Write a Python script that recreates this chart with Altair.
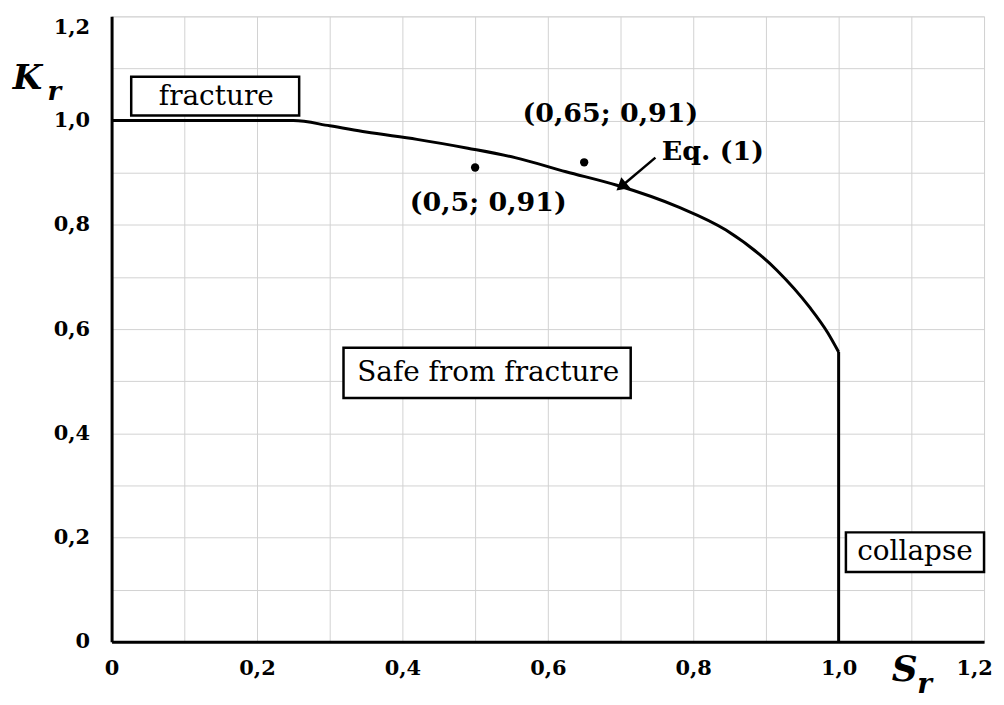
import altair as alt
import pandas as pd

# Failure assessment curve
sr_curve = [0.0, 0.25, 0.30, 0.35, 0.42, 0.49, 0.555, 0.625, 0.695, 0.78, 0.845, 0.915, 0.96, 0.985, 1.0, 1.0]
kr_curve = [1.0, 1.0, 0.99, 0.978, 0.964, 0.947, 0.929, 0.902, 0.876, 0.834, 0.79, 0.713, 0.642, 0.593, 0.556, 0.0]

# Assessment points
point_sr = [0.5, 0.65]
point_kr = [0.91, 0.92]

# Axis ticks / grid
tick_values = [0.0, 0.1, 0.2, 0.3, 0.4, 0.5, 0.6, 0.7, 0.8, 0.9, 1.0, 1.1, 1.2]

# Boxed region labels
box_names = ["fracture", "Safe from fracture", "collapse"]
box_x1 = [0.027, 0.319, 1.01]
box_x2 = [0.258, 0.714, 1.2]
box_y1 = [1.010, 0.468, 0.134]
box_y2 = [1.084, 0.564, 0.210]
box_tx = [0.144, 0.518, 1.105]
box_ty = [1.046, 0.516, 0.172]

# Point / equation annotations
note_texts = ["(0,65; 0,91)", "(0,5; 0,91)", "Eq. (1)"]
note_x = [0.686, 0.518, 0.827]
note_y = [1.013, 0.841, 0.939]

# Arrow to the curve
arrow_x = [0.748]
arrow_y = [0.929]
arrow_x2 = [0.703]
arrow_y2 = [0.876]

# Axis symbols (main letter + subscript)
sym_text = ["K", "r", "S", "r"]
sym_x = [-0.136, -0.088, 1.073, 1.108]
sym_y = [1.061, 1.040, -0.076, -0.098]
sym_size = [34, 26, 36, 28]

FONT = "DejaVu Serif"
xs = alt.Scale(domain=[0, 1.2], nice=False, zero=False)
ys = alt.Scale(domain=[0, 1.2], nice=False, zero=False)

label_expr = ("round(datum.value*10) % 2 == 1 ? '' : "
              "(datum.value == 0 ? '0' : replace(format(datum.value, '.1f'), '.', ','))")

n = len(sr_curve)
curve_df = pd.DataFrame({"Sr": sr_curve, "Kr": kr_curve, "i": list(range(n))})
pts_df = pd.DataFrame({"Sr": point_sr, "Kr": point_kr})
box_df = pd.DataFrame({"name": box_names, "x1": box_x1, "x2": box_x2, "y1": box_y1,
                       "y2": box_y2, "tx": box_tx, "ty": box_ty})
note_df = pd.DataFrame({"t": note_texts, "x": note_x, "y": note_y})
arrow_df = pd.DataFrame({"x": arrow_x, "y": arrow_y, "x2": arrow_x2, "y2": arrow_y2})
sym_df = pd.DataFrame({"t": sym_text, "x": sym_x, "y": sym_y, "s": sym_size})

x_axis = alt.Axis(values=tick_values, labelExpr=label_expr, title=None, ticks=False,
                  grid=True, gridColor="#d2d2d2", gridWidth=1, domainColor="black",
                  domainWidth=3, labelFont=FONT, labelFontWeight="bold", labelFontSize=21,
                  labelColor="black", labelPadding=16, labelFlush=False,
                  labelOffset={"condition": {"test": "datum.value > 1.15", "value": -10},
                               "value": 0})
y_axis = alt.Axis(values=tick_values, labelExpr=label_expr, title=None, ticks=False,
                  grid=True, gridColor="#d2d2d2", gridWidth=1, domainColor="black",
                  domainWidth=3, labelFont=FONT, labelFontWeight="bold", labelFontSize=21,
                  labelColor="black", labelPadding=22, labelFlush=False,
                  labelBaseline={"condition": {"test": "datum.value > 1.15", "value": "top"},
                                 "value": "middle"})

base = alt.Chart(curve_df)
curve = base.transform_filter(f"datum.i <= {n - 2}").mark_line(
    color="black", strokeWidth=3, interpolate="monotone", clip=False).encode(
    x=alt.X("Sr:Q", scale=xs, axis=x_axis),
    y=alt.Y("Kr:Q", scale=ys, axis=y_axis),
    order="i:Q",
)
vertical = base.transform_filter(f"datum.i >= {n - 2}").mark_line(
    color="black", strokeWidth=3).encode(
    x=alt.X("Sr:Q", scale=xs), y=alt.Y("Kr:Q", scale=ys), order="i:Q"
)

points = alt.Chart(pts_df).mark_circle(color="black", size=70, opacity=1).encode(
    x=alt.X("Sr:Q", scale=xs), y=alt.Y("Kr:Q", scale=ys)
)

boxes = alt.Chart(box_df).mark_rect(fill="white", stroke="black", strokeWidth=2.5, clip=False).encode(
    x=alt.X("x1:Q", scale=xs), x2="x2:Q", y=alt.Y("y1:Q", scale=ys), y2="y2:Q"
)
box_text = alt.Chart(box_df).mark_text(font=FONT, fontSize=28, color="black").encode(
    x=alt.X("tx:Q", scale=xs), y=alt.Y("ty:Q", scale=ys), text="name:N"
)

notes = alt.Chart(note_df).mark_text(font=FONT, fontSize=27, fontWeight="bold", color="black").encode(
    x=alt.X("x:Q", scale=xs), y=alt.Y("y:Q", scale=ys), text="t:N"
)

arrow_line = alt.Chart(arrow_df).mark_rule(color="black", strokeWidth=2.5).encode(
    x=alt.X("x:Q", scale=xs), y=alt.Y("y:Q", scale=ys), x2="x2:Q", y2="y2:Q"
)
arrow_head = alt.Chart(arrow_df).mark_point(shape="triangle", filled=True, color="black",
                                            size=200, angle=230, opacity=1).encode(
    x=alt.X("x2:Q", scale=xs), y=alt.Y("y2:Q", scale=ys)
)

symbols = alt.Chart(sym_df).mark_text(font=FONT, fontStyle="italic", fontWeight="bold",
                                      color="black", align="left", baseline="alphabetic",
                                      clip=False).encode(
    x=alt.X("x:Q", scale=xs), y=alt.Y("y:Q", scale=ys), text="t:N",
    size=alt.Size("s:Q", scale=None, legend=None)
)

chart = alt.layer(curve, vertical, boxes, box_text, points, notes, arrow_line, arrow_head, symbols).properties(
    width=876, height=628,
    autosize=alt.AutoSizeParams(type="none"),
    padding={"left": 104, "top": 7, "right": 12, "bottom": 58},
).configure_view(stroke=None).configure(background="white")

chart.save("out.html", embed_options={"renderer": "svg", "actions": False})
